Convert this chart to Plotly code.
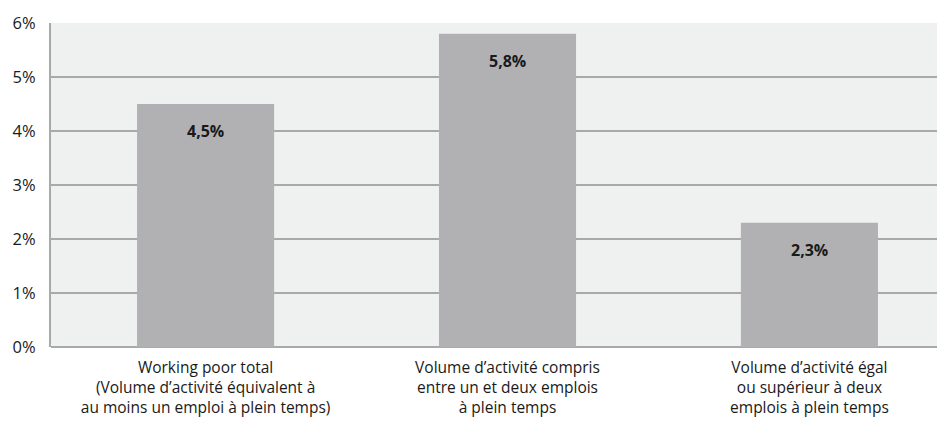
import plotly.graph_objects as go

categories = [
    "Working poor total<br>(Volume d\u2019activité équivalent à<br>au moins un emploi à plein temps)",
    "Volume d\u2019activité compris<br>entre un et deux emplois<br>à plein temps",
    "Volume d\u2019activité égal<br>ou supérieur à deux<br>emplois à plein temps",
]
values = [4.5, 5.8, 2.3]
value_labels = ["4,5%", "5,8%", "2,3%"]
y_ticks = [0, 1, 2, 3, 4, 5, 6]
y_tick_labels = ["0%", "1%", "2%", "3%", "4%", "5%", "6%"]

font_family = "Open Sans, sans-serif"

fig = go.Figure()
fig.add_trace(go.Bar(
    x=categories,
    y=values,
    width=0.454,
    marker=dict(color="#b1b1b3", line=dict(width=0)),
    hoverinfo="skip",
))

# value labels just under the top of each bar
for c, v, t in zip(categories, values, value_labels):
    fig.add_annotation(
        x=c, y=v, text="<b>" + t + "</b>", showarrow=False,
        yshift=-27, yanchor="middle",
        font=dict(family=font_family, size=16, color="#1a1a1a"),
    )

# page body has an 8px margin, so the figure is sized to fit the window
fig.update_layout(
    width=937, height=415,
    margin=dict(l=43, r=0, t=15, b=76),
    paper_bgcolor="white",
    plot_bgcolor="#eff0f0",
    showlegend=False,
    font=dict(family=font_family, size=15.5, color="#1a1a1a"),
    xaxis=dict(
        type="category",
        range=[-0.512, 2.449],
        automargin=False,
        showgrid=False,
        ticks="outside", ticklen=6, tickcolor="rgba(0,0,0,0)",
        tickfont=dict(size=15.5),
        showline=False,
    ),
    yaxis=dict(
        range=[0, 6],
        automargin=False,
        tickvals=y_ticks,
        ticktext=y_tick_labels,
        showgrid=True, gridcolor="#a9a9a9", gridwidth=1.5,
        zeroline=True, zerolinecolor="#a9a9a9", zerolinewidth=1.5,
        showline=True, linecolor="#a9a9a9", linewidth=2,
        ticks="outside", ticklen=10, tickcolor="rgba(0,0,0,0)",
        tickfont=dict(size=16.5),
    ),
)

fig.write_html("out.html")
